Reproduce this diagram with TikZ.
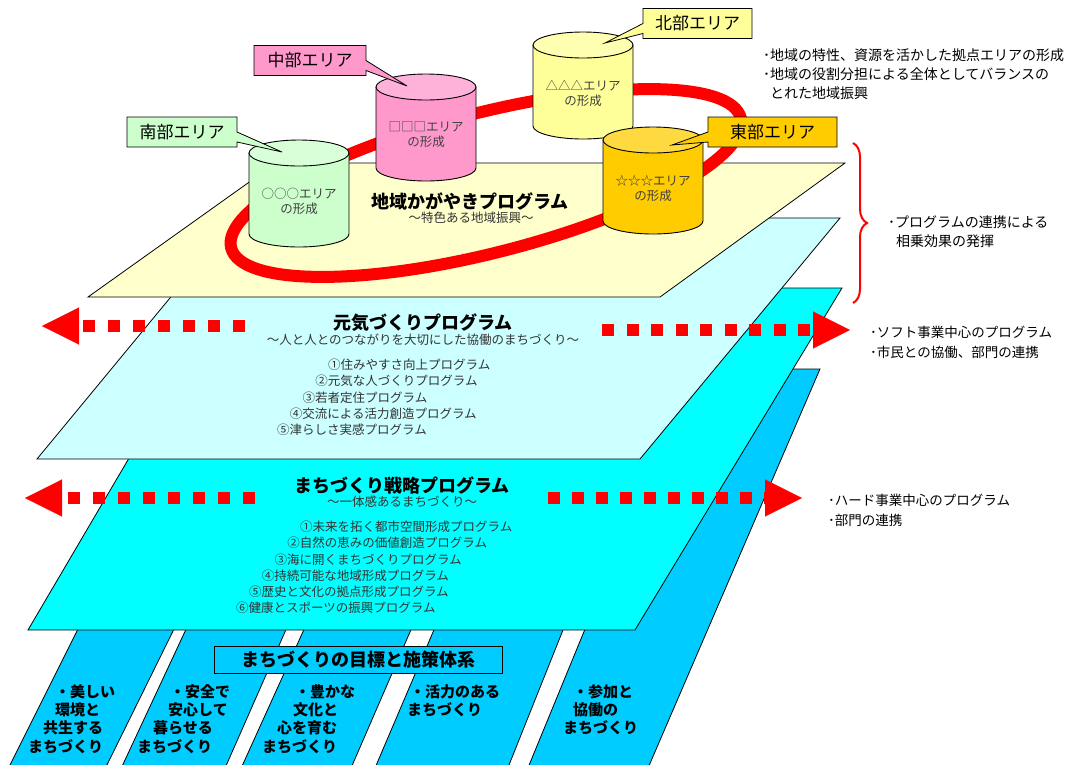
\documentclass[tikz,border=0pt]{standalone}
\usepackage{fontspec}
\setmainfont{Noto Sans CJK JP}
\usetikzlibrary{shapes.callouts,arrows.meta,decorations.pathreplacing}

\definecolor{planeyellow}{HTML}{FFFFCC}
\definecolor{planelight}{HTML}{CCFFFF}
\definecolor{planecyan}{HTML}{00FFFF}
\definecolor{goalblue}{HTML}{00CCFF}
\definecolor{southgreen}{HTML}{CCFFCC}
\definecolor{centerpink}{HTML}{FF99CC}
\definecolor{northyellow}{HTML}{FFFF99}
\definecolor{eastorange}{HTML}{FFCC00}
\definecolor{ringred}{HTML}{FF0000}

\tikzset{
  plane/.style={draw=black, line width=0.8pt},
  cylbody/.style={draw=black, line width=0.9pt},
  cyltext/.style={font=\fontsize{12.5}{15}\selectfont, text=black!75, align=center, inner sep=0pt},
  areatag/.style={rectangle callout, draw=black, line width=0.8pt, minimum height=30pt,
    inner sep=2pt, callout pointer width=10pt, font=\fontsize{17}{20}\selectfont},
  title/.style={font=\bfseries\fontsize{18}{20}\selectfont, inner sep=0pt},
  subtitle/.style={font=\fontsize{12.5}{15}\selectfont, text=black!80, inner sep=0pt},
  listtext/.style={font=\fontsize{12.5}{15}\selectfont, text=black!80, anchor=west, inner sep=0pt},
  goaltext/.style={font=\bfseries\fontsize{15}{18}\selectfont, anchor=west, inner sep=0pt},
  note/.style={font=\fontsize{14}{19}\selectfont, align=left, anchor=west, inner sep=0pt},
  dotarrow/.style={draw=ringred, line width=12pt, dash pattern=on 12pt off 13pt,
    -{Triangle[length=37pt,width=37pt,line width=0.1pt]}}
}

\newcommand\areacyl[5]{%
  \filldraw[cylbody, fill=#4] (#2-50,#3) -- (#2-50,#3+81)
    arc[start angle=180, end angle=0, x radius=50, y radius=13] -- (#2+50,#3) -- cycle;
  \filldraw[cylbody, fill=#4!75!white] (#2,#3) ellipse [x radius=50, y radius=13];
  \node[cyltext] (#1) at (#2,#3+48) {#5};
}

\begin{document}
\begin{tikzpicture}[x=1pt, y=-1pt]
  \useasboundingbox (0,0) rectangle (1073,764);

  \filldraw[plane, fill=goalblue] (80,625) -- (176,625) -- (102,775) -- (5,775) -- cycle;
  \filldraw[plane, fill=goalblue] (188,625) -- (288,625) -- (222,775) -- (118,775) -- cycle;
  \filldraw[plane, fill=goalblue] (306,625) -- (413,625) -- (348,775) -- (238,775) -- cycle;
  \filldraw[plane, fill=goalblue] (436,625) -- (565,625) -- (505,775) -- (372,775) -- cycle;
  \filldraw[plane, fill=goalblue] (692,369) -- (820,369) -- (645,775) -- (525,775) -- cycle;

  \filldraw[plane, fill=planecyan] (28,630) -- (635,630) -- (842,288) -- (229,288) -- cycle;
  \filldraw[plane, fill=planelight] (37,459) -- (640,459) -- (840,218) -- (236,218) -- cycle;
  \filldraw[plane, fill=planeyellow] (88,297) -- (660,297) -- (845,163) -- (276,163) -- cycle;

  \draw[ringred, line width=12pt, rotate around={14.3:(486,183)}]
    (486,183) ellipse [x radius=263, y radius=70];

  \areacyl{south}{299}{153}{southgreen}{○○○エリア\\の形成}
  \areacyl{center}{426}{87}{centerpink}{□□□エリア\\の形成}
  \areacyl{north}{583}{45}{northyellow}{△△△エリア\\の形成}
  \areacyl{east}{653}{140}{eastorange}{☆☆☆エリア\\の形成}

  \node[areatag, fill=southgreen, minimum width=110pt, callout absolute pointer={(282,152)}] (southtag) at (182,132) {南部エリア};
  \node[areatag, fill=centerpink, minimum width=112pt, callout absolute pointer={(407,86)}] (centertag) at (310,60.5) {中部エリア};
  \node[areatag, fill=northyellow, minimum width=109pt, callout absolute pointer={(605,43)}] (northtag) at (697.5,23.5) {北部エリア};
  \node[areatag, fill=eastorange, minimum width=129pt, callout absolute pointer={(672,145)}] (easttag) at (772.5,132) {東部エリア};

  \node[title] (glowtitle) at (470,201) {地域かがやきプログラム};
  \node[subtitle] (glowsub) at (471,218) {～特色ある地域振興～};

  \node[title] (genkititle) at (423,323) {元気づくりプログラム};
  \node[subtitle] (genkisub) at (423,340) {～人と人とのつながりを大切にした協働のまちづくり～};
  \foreach \txt [count=\i] in {①住みやすさ向上プログラム, ②元気な人づくりプログラム, ③若者定住プログラム,
      ④交流による活力創造プログラム, ⑤津らしさ実感プログラム}
    \node[listtext] (genki\i) at ({328-(\i-1)*12.75}, {365+(\i-1)*16.25}) {\txt};

  \node[title] (senryakutitle) at (402,485) {まちづくり戦略プログラム};
  \node[subtitle] (senryakusub) at (402,502) {～一体感あるまちづくり～};
  \foreach \txt [count=\i] in {①未来を拓く都市空間形成プログラム, ②自然の恵みの価値創造プログラム,
      ③海に開くまちづくりプログラム, ④持続可能な地域形成プログラム,
      ⑤歴史と文化の拠点形成プログラム, ⑥健康とスポーツの振興プログラム}
    \node[listtext] (senryaku\i) at ({300-(\i-1)*12.8}, {527+(\i-1)*16.2}) {\txt};

  \coordinate (softL0) at (245,326);
  \coordinate (softL1) at (42,326);
  \coordinate (softR0) at (602,330);
  \coordinate (softR1) at (850,330);
  \coordinate (hardL0) at (255,498);
  \coordinate (hardL1) at (25,498);
  \coordinate (hardR0) at (548,498);
  \coordinate (hardR1) at (802,498);
  \draw[dotarrow] (softL0) -- (softL1);
  \draw[dotarrow, dash pattern=on 12pt off 12.5pt] (softR0) -- (softR1);
  \draw[dotarrow] (hardL0) -- (hardL1);
  \draw[dotarrow, dash pattern=on 12pt off 12pt] (hardR0) -- (hardR1);

  \coordinate (braceT) at (853,143);
  \coordinate (braceB) at (853,303);
  \draw[ringred, line width=2pt, decorate, decoration={brace, amplitude=14pt}] (braceT) -- (braceB);

  \node[note] (notearea) at (763,74) {･地域の特性、資源を活かした拠点エリアの形成\\･地域の役割分担による全体としてバランスの\\\hspace*{7pt}とれた地域振興};
  \node[note] (notelink) at (888,232) {･プログラムの連携による\\\hspace*{8pt}相乗効果の発揮};
  \node[note, font=\fontsize{13.5}{20}\selectfont] (notesoft) at (870,342) {･ソフト事業中心のプログラム\\･市民との協働、部門の連携};
  \node[note, font=\fontsize{13.5}{20}\selectfont] (notehard) at (828,510) {･ハード事業中心のプログラム\\･部門の連携};

  \node[draw=black, line width=0.8pt, fill=goalblue, minimum width=288pt, minimum height=27pt, inner sep=0pt,
    font=\bfseries\fontsize{18}{20}\selectfont] (goalsys) at (358,659.5) {まちづくりの目標と施策体系};
  \foreach \x/\y/\txt [count=\i] in {55/692/・美しい, 55/710/環境と, 43/728/共生する, 28/747/まちづくり,
      170/692/・安全で, 168/710/安心して, 153/728/暮らせる, 137/747/まちづくり,
      295/692/・豊かな, 293/710/文化と, 277/728/心を育む, 262/747/まちづくり,
      410/692/・活力のある, 407/710/まちづくり,
      573/692/・参加と, 573/710/協働の, 563/728/まちづくり}
    \node[goaltext] (goal\i) at (\x,\y) {\txt};
\end{tikzpicture}
\end{document}
